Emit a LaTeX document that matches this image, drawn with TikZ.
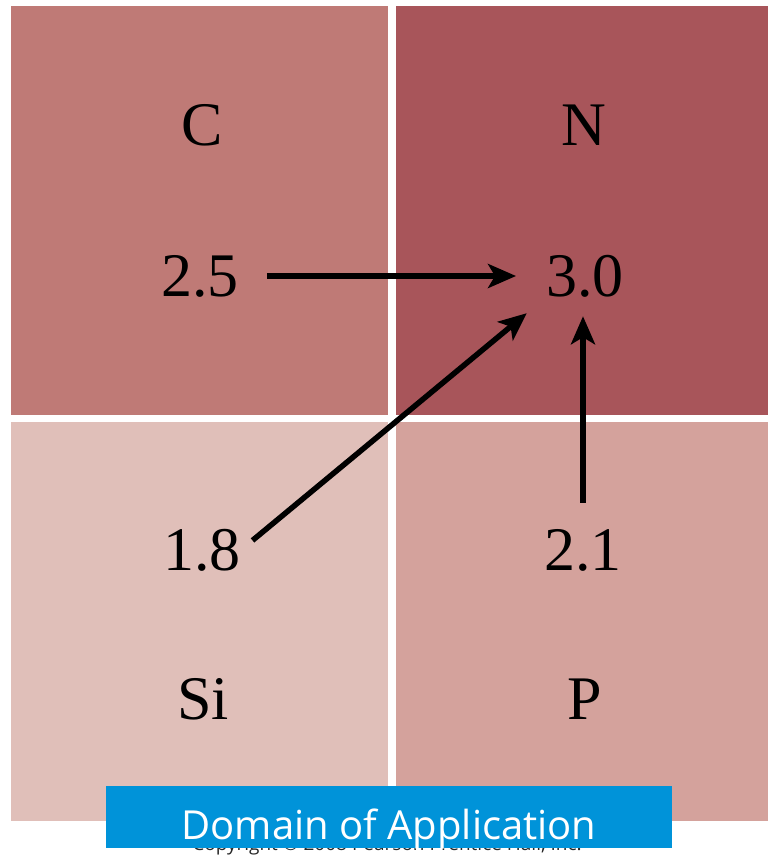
\documentclass[tikz,border=0pt]{standalone}
\usepackage{fontspec}
\setmainfont{Liberation Serif}
\newfontfamily\bannerfont{Open Sans}
\usetikzlibrary{arrows.meta}

\definecolor{boxC}{HTML}{BF7A76}
\definecolor{boxN}{HTML}{A8555A}
\definecolor{boxSi}{HTML}{E0BFB9}
\definecolor{boxP}{HTML}{D4A29C}
\definecolor{bannerblue}{HTML}{0093D9}

\tikzset{
  cell/.style={inner sep=0pt,outer sep=0pt},
  elem/.style={inner sep=0pt,font=\fontsize{62}{62}\selectfont},
  enval/.style={inner sep=0pt,font=\fontsize{62}{62}\selectfont},
  arr/.style={line width=5.5pt,-{Stealth[length=28pt,width=24pt,inset=7pt]}}
}

\begin{document}
\begin{tikzpicture}[x=1pt,y=-1pt]
    \useasboundingbox (0,0) rectangle (779,860);

    \node (cC) at (199.5,210.5) [cell,fill=boxC,minimum width=377pt,minimum height=409pt] {}; \node (cN) at (582,210.5) [cell,fill=boxN,minimum width=372pt,minimum height=409pt] {}; \node (cSi) at (199.5,621.5) [cell,fill=boxSi,minimum width=377pt,minimum height=399pt] {}; \node (cP) at (582,621.5) [cell,fill=boxP,minimum width=372pt,minimum height=399pt] {};

    \node (C) at (202,125) [elem] {C}; \node (N) at (584,125) [elem] {N}; \node (Si) at (203,699) [elem] {Si}; \node (P) at (585,699) [elem] {P};

    \node (v25) at (200,276) [enval] {2.5}; \node (v30) at (585,276) [enval] {3.0}; \node (v18) at (202,550) [enval] {1.8}; \node (v21) at (583,550) [enval] {2.1};

    \draw[arr,shorten <=28pt,shorten >=30pt] (v25.east) -- (v30.west);

    \draw[arr,shorten <=15pt,shorten >=25pt] (v18.east) -- (v30.south west);

    \draw[arr,shorten <=26pt,shorten >=19pt] (v21.north) -- (v21.north |- v30.south);

    \node (copy) at (387,846) [text=black!85,font=\bannerfont\fontsize{19}{19}\selectfont] {Copyright © 2008 Pearson Prentice Hall, Inc.};

    \node (banner) at (389,817) [fill=bannerblue,text=white,minimum width=566pt,minimum height=62pt,inner sep=0pt,text height=53pt,text depth=9pt,font=\bannerfont\fontsize{40}{40}\selectfont] {Domain of Application};

\end{tikzpicture}
\end{document}
